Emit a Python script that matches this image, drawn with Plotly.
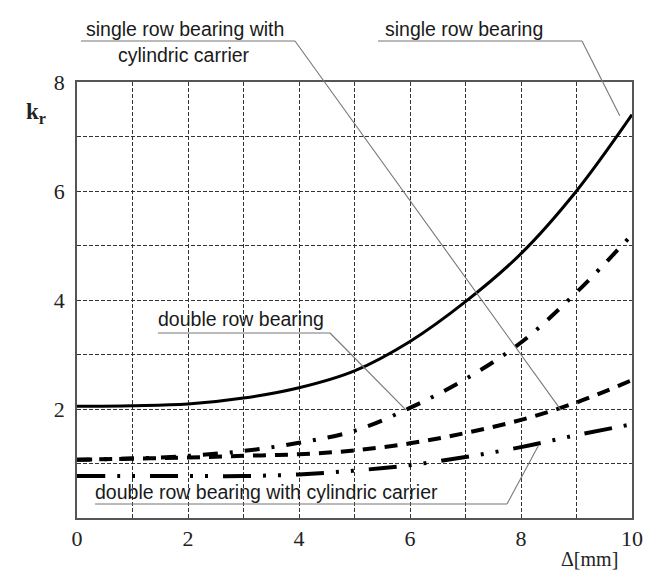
import plotly.graph_objects as go

# ---- data ----
delta_mm = [0, 1, 2, 3, 4, 5, 6, 7, 8, 9, 10]
single_row = [2.05, 2.06, 2.09, 2.2, 2.39, 2.7, 3.24, 3.97, 4.85, 6.0, 7.4]
double_row = [1.07, 1.09, 1.14, 1.23, 1.38, 1.6, 2.02, 2.55, 3.22, 4.14, 5.2]
single_row_cyl = [1.07, 1.09, 1.11, 1.14, 1.17, 1.24, 1.37, 1.56, 1.8, 2.12, 2.53]
double_row_cyl = [0.77, 0.77, 0.77, 0.77, 0.8, 0.87, 0.97, 1.12, 1.3, 1.52, 1.72]

x_ticks = [0, 2, 4, 6, 8, 10]
x_minor = [1, 3, 5, 7, 9]
y_ticks = [2, 4, 6, 8]
y_minor = [1, 3, 5, 7]

# ---- layout geometry (pixels) ----
W, H = 652, 573
L, R, T, B = 69, 624, 74, 510


def px(x):
    return (x - L) / (R - L)


def py(y):
    return (B - y) / (B - T)


fig = go.Figure()
fig.add_trace(go.Scatter(x=delta_mm, y=single_row, mode="lines", line_shape="spline",
                         line=dict(color="black", width=3), name="single row bearing"))
fig.add_trace(go.Scatter(x=delta_mm, y=double_row, mode="lines", line_shape="spline",
                         line=dict(color="black", width=4, dash="15px,12px,3px,12px"),
                         name="double row bearing"))
fig.add_trace(go.Scatter(x=delta_mm, y=single_row_cyl, mode="lines", line_shape="spline",
                         line=dict(color="black", width=4, dash="13px,9px"),
                         name="single row bearing with cylindric carrier"))
fig.add_trace(go.Scatter(x=delta_mm, y=double_row_cyl, mode="lines", line_shape="spline",
                         line=dict(color="black", width=4, dash="28px,12px,3px,12px,3px,15px"),
                         name="double row bearing with cylindric carrier"))

gridstyle = dict(showgrid=True, gridcolor="#333", gridwidth=1, griddash="4px,2px")
common = dict(showline=True, linecolor="#555", linewidth=1.5, mirror=True,
              zeroline=False, ticks="",
              tickfont=dict(family="Liberation Serif", size=22, color="#222"),
              **gridstyle)

fig.update_xaxes(range=[0, 10], tickmode="array", tickvals=x_ticks,
                 minor=dict(tickmode="array", tickvals=x_minor, ticks="", **gridstyle), **common)
fig.update_yaxes(range=[0, 8], tickmode="array", tickvals=y_ticks,
                 minor=dict(tickmode="array", tickvals=y_minor, ticks="", **gridstyle), **common)
try:
    fig.update_yaxes(ticklabelstandoff=6)
except Exception:
    pass

# leader lines (paper coordinates)
lead = dict(color="#777", width=1.1)


def seg(x0, y0, x1, y1):
    fig.add_shape(type="line", xref="paper", yref="paper", x0=x0, y0=y0, x1=x1, y1=y1,
                  line=lead, layer="above")


# single row bearing with cylindric carrier -> dashed curve
seg(px(73), py(33), px(287), py(33))
seg(px(287), py(33), 8.72 / 10, 1.98 / 8)
# single row bearing -> solid curve
seg(px(370), py(33), px(574), py(33))
seg(px(574), py(33), 9.78 / 10, 7.38 / 8)
# double row bearing -> dash-dot curve
seg(px(150), py(325), px(322), py(325))
seg(px(322), py(325), 5.93 / 10, 1.98 / 8)
# double row bearing with cylindric carrier -> dash-dot-dot curve
seg(px(87), py(496), px(499), py(496))
seg(px(499), py(496), 8.31 / 10, 1.32 / 8)

lab_font = dict(family="Liberation Sans", size=19.5, color="#1a1a1a")


def label(text, x, y, font=lab_font):
    fig.add_annotation(text=text, xref="paper", yref="paper", x=px(x), y=py(y),
                       xanchor="center", yanchor="middle", showarrow=False, font=font)


label("single row bearing with", 177, 21)
label("cylindric carrier", 176, 47)
label("single row bearing", 456, 21)
label("double row bearing", 233, 311)
label("double row bearing with cylindric carrier", 258, 484)

label("<b>k<sub>r</sub></b>", 28, 105, dict(family="Liberation Serif", size=23, color="#222"))
label("Δ[mm]", 581, 551, dict(family="Liberation Serif", size=20, color="#222"))

fig.update_layout(width=W, height=H, margin=dict(l=L, r=W - R, t=T, b=H - B),
                  paper_bgcolor="white", plot_bgcolor="white", showlegend=False)

fig.write_html("out.html")
